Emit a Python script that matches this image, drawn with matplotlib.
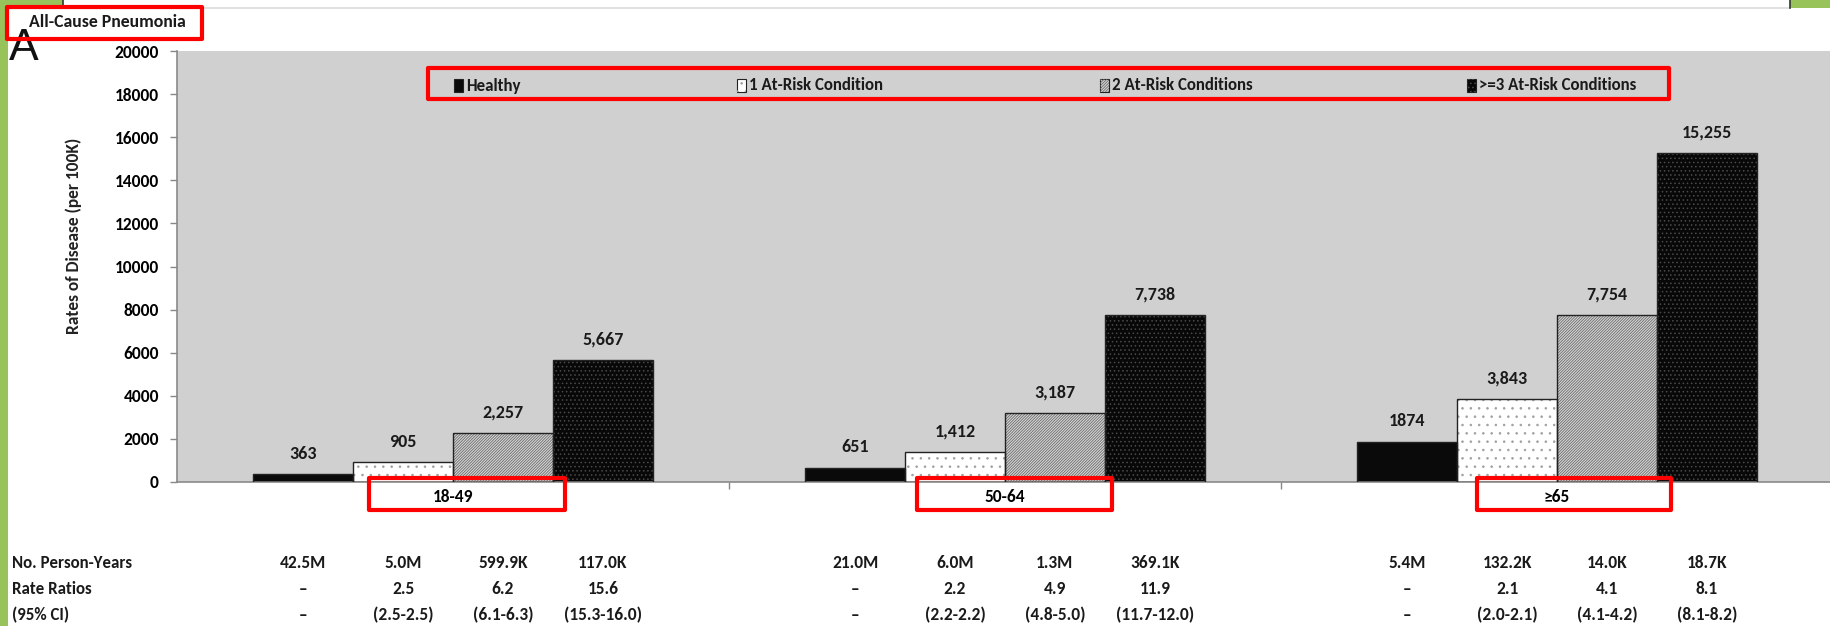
import matplotlib
matplotlib.use("Agg")
import matplotlib.pyplot as plt
from matplotlib.patches import Rectangle
from matplotlib.transforms import blended_transform_factory
import numpy as np

plt.rcParams['font.family'] = ['Carlito', 'Open Sans Condensed', 'DejaVu Sans']
plt.rcParams['hatch.linewidth'] = 0.6

# ---- data ----
age_groups = ['18-49', '50-64', '\u226565']
series_names = ['Healthy', '1 At-Risk Condition', '2 At-Risk Conditions', '>=3 At-Risk Conditions']
healthy = [363, 651, 1874]
one_risk = [905, 1412, 3843]
two_risk = [2257, 3187, 7754]
three_risk = [5667, 7738, 15255]

person_years = [['42.5M', '5.0M', '599.9K', '117.0K'],
                ['21.0M', '6.0M', '1.3M', '369.1K'],
                ['5.4M', '132.2K', '14.0K', '18.7K']]
rate_ratios = [['\u2013', '2.5', '6.2', '15.6'],
               ['\u2013', '2.2', '4.9', '11.9'],
               ['\u2013', '2.1', '4.1', '8.1']]
rate_ci = [['\u2013', '(2.5-2.5)', '(6.1-6.3)', '(15.3-16.0)'],
           ['\u2013', '(2.2-2.2)', '(4.8-5.0)', '(11.7-12.0)'],
           ['\u2013', '(2.0-2.1)', '(4.1-4.2)', '(8.1-8.2)']]
row_titles = ['No. Person-Years', 'Rate Ratios', '(95% CI)']
yticks = list(range(0, 20001, 2000))

# ---- figure geometry (pixels) ----
W, H = 1830, 626
def fx(x):
    return x / W
def fy(y):
    return 1 - y / H

fig = plt.figure(figsize=(W / 100, H / 100), dpi=100, facecolor='white')

# decorative page frame
fig.patches.append(Rectangle((0, 0), fx(8), 1, transform=fig.transFigure,
                             facecolor='#98c35a', edgecolor='none', zorder=0))
fig.patches.append(Rectangle((0, fy(6)), fx(63), 6 / H, transform=fig.transFigure,
                             facecolor='#98c35a', edgecolor='none', zorder=0))
fig.patches.append(Rectangle((fx(1790), fy(8)), fx(40), 8 / H, transform=fig.transFigure,
                             facecolor='#98c35a', edgecolor='none', zorder=0))
fig.add_artist(plt.Line2D([fx(63), fx(1790)], [fy(8), fy(8)], color='#dcdcdc', lw=1.2))
fig.add_artist(plt.Line2D([fx(63), fx(63)], [fy(0), fy(6)], color='#333333', lw=1.2))
fig.add_artist(plt.Line2D([fx(1790), fx(1790)], [fy(0), fy(8)], color='#333333', lw=1.2))

# ---- axes ----
ax_left, ax_right, ax_top, ax_bottom = 177, 1833, 51, 482
ax = fig.add_axes([fx(ax_left), fy(ax_bottom), fx(ax_right - ax_left), (ax_bottom - ax_top) / H])
ax.set_facecolor('#d0d0d0')
ax.set_xlim(-0.5, 2.5)
ax.set_ylim(0, 20000)

styles = [
    dict(face='#0a0a0a', hatch=None, hcol=None),
    dict(face='#ffffff', hatch='..', hcol='#a0a0a0'),
    dict(face='#d6d6d6', hatch='/' * 12, hcol='#6a6a6a'),
    dict(face='#080808', hatch='....', hcol='#4a4a4a'),
]
all_series = [healthy, one_risk, two_risk, three_risk]
bar_w = 0.181
x = np.arange(len(age_groups))
offsets = (np.arange(4) - 1.5) * bar_w

for i, (vals, st) in enumerate(zip(all_series, styles)):
    pos = x + offsets[i]
    ax.bar(pos, vals, width=bar_w, color=st['face'], edgecolor='none', lw=0, zorder=2)
    if st['hatch']:
        ax.bar(pos, vals, width=bar_w, fill=False, hatch=st['hatch'],
               edgecolor=st['hcol'], lw=0, zorder=3)
    ax.bar(pos, vals, width=bar_w, fill=False, edgecolor='#222222', lw=1.0, zorder=4)
    for xp, v in zip(pos, vals):
        txt = f'{v:d}' if i == 0 else f'{v:,}'
        ax.annotate(txt, (xp, v), xytext=(0, 9), textcoords='offset points',
                    ha='center', va='bottom', fontsize=13, fontweight='bold',
                    color='#1a1a1a')

ax.set_yticks(yticks)
ax.set_yticklabels([str(t) for t in yticks], fontsize=12.5, fontweight='bold')
ax.tick_params(axis='y', length=5, width=1, color='#888888', pad=8)
ax.set_xticks(x)
ax.set_xticklabels(age_groups, fontsize=12.5, fontweight='bold')
ax.set_xticks([0.5, 1.5], minor=True)
ax.tick_params(axis='x', which='major', length=0, pad=5)
ax.tick_params(axis='x', which='minor', length=5, width=1, color='#888888')
for s in ['top', 'right']:
    ax.spines[s].set_visible(False)
for s in ['left', 'bottom']:
    ax.spines[s].set_color('#8a8a8a')
    ax.spines[s].set_linewidth(1.2)

fig.text(fx(74), fy(236), 'Rates of Disease (per 100K)', rotation=90,
         ha='center', va='center', fontsize=12.5, fontweight='bold', color='#222222')

# ---- legend row ----
legend_x = [454, 737, 1100, 1467]
for name, lx, st in zip(series_names, legend_x, styles):
    fig.patches.append(Rectangle((fx(lx), fy(92)), fx(9), 13 / H, transform=fig.transFigure,
                                 facecolor=st['face'], edgecolor='#222222', lw=0.8, zorder=5))
    if st['hatch']:
        fig.patches.append(Rectangle((fx(lx), fy(92)), fx(9), 13 / H, transform=fig.transFigure,
                                     fill=False, hatch=st['hatch'], edgecolor=st['hcol'],
                                     lw=0, zorder=6))
    fig.text(fx(lx + 12), fy(85.5), name, ha='left', va='center', fontsize=12.2,
             fontweight='bold', color='#1a1a1a')

# ---- titles ----
fig.text(fx(29), fy(22), 'All-Cause Pneumonia', ha='left', va='center', fontsize=12.8,
         fontweight='bold', color='#1a1a1a')
fig.text(fx(9), fy(48), 'A', ha='left', va='center', fontsize=32,
         family=['Liberation Sans', 'DejaVu Sans'], color='#111111')

# ---- table under the chart ----
tr = blended_transform_factory(ax.transData, fig.transFigure)
row_y = [563, 589, 615]
for r, (title, rows) in enumerate(zip(row_titles, [person_years, rate_ratios, rate_ci])):
    fig.text(fx(12), fy(row_y[r]), title, ha='left', va='center', fontsize=12.2,
             fontweight='bold', color='#1a1a1a')
    for g in range(len(age_groups)):
        for k in range(4):
            ax.text(x[g] + offsets[k], fy(row_y[r]), rows[g][k], transform=tr,
                    ha='center', va='center', fontsize=12.5, fontweight='bold',
                    color='#1a1a1a', clip_on=False)

# ---- red highlight frames ----
def red_box(x0, y0, x1, y1):
    fig.patches.append(Rectangle((fx(x0), fy(y1)), fx(x1 - x0), (y1 - y0) / H,
                                 transform=fig.transFigure, fill=False, edgecolor='#ff0000',
                                 lw=3.0, joinstyle='round', zorder=10))

red_box(7, 7, 202, 39)
red_box(428, 68, 1669, 99)
red_box(369, 478, 565, 510)
red_box(917, 478, 1112, 510)
red_box(1477, 478, 1671, 510)

fig.savefig('out.png', dpi=100, facecolor='white')
